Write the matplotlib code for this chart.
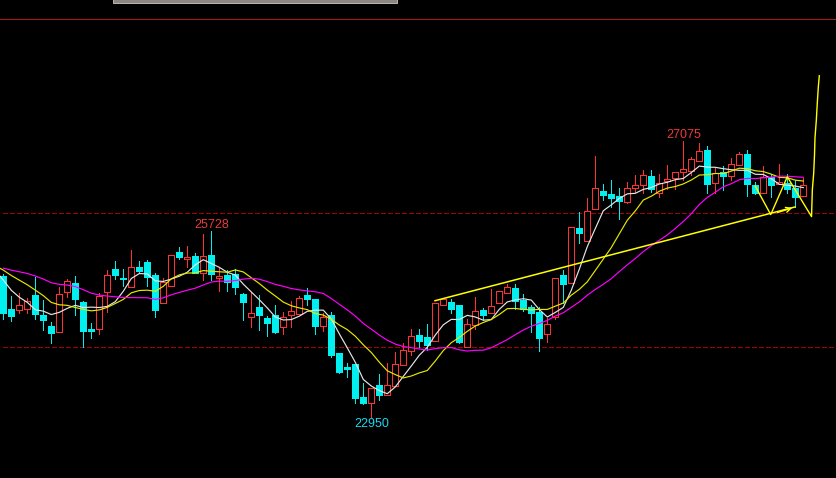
import numpy as np
import pandas as pd
import matplotlib
matplotlib.use("Agg")
import matplotlib.pyplot as plt
from matplotlib.patches import Rectangle

# daily candles
opens = [25055, 24565, 24550, 24565, 24775, 24475, 24310, 24220, 24820, 24955,
         24670, 24265, 24265, 24820, 25160, 25025, 24895, 25190, 25265, 25070,
         24655, 24910, 25415, 25310, 25355, 25100, 25370, 25025, 25070, 25085,
         24790, 24445, 24595, 24430, 24475, 24295, 24475, 24490, 24775, 24715,
         24310, 24475, 23905, 23695, 23740, 23250, 23160, 23430, 23280, 23415,
         23725, 23935, 24175, 24145, 24085, 24625, 24670, 24625, 23995, 24325,
         24550, 24505, 24655, 24805, 24880, 24700, 24595, 24520, 24190, 24445,
         25070, 24955, 25775, 25580, 26060, 26330, 26285, 26255, 26165, 26375,
         26415, 26550, 26300, 26475, 26520, 26610, 26625, 26775, 26940, 26445,
         26610, 26550, 26715, 26880, 26415, 26300, 26535, 26430, 26445, 26375,
         26255]
highs = [25085, 24760, 24805, 24730, 25040, 24700, 24370, 24895, 25010, 25055,
         24685, 24355, 24805, 25145, 25280, 25160, 25445, 25280, 25295, 25100,
         25025, 25370, 25490, 25505, 25400, 25685, 25728, 25175, 25145, 25160,
         24805, 24820, 24775, 24460, 24625, 24520, 24685, 24760, 24880, 24715,
         24505, 24520, 23905, 23755, 23740, 23460, 23385, 23595, 23755, 23920,
         24055, 24265, 24265, 24340, 24655, 24715, 24715, 24625, 24415, 24745,
         24580, 24865, 24835, 24940, 24940, 24790, 24625, 24595, 24430, 25025,
         25145, 25790, 26015, 26225, 26850, 26430, 26490, 26375, 26460, 26565,
         26640, 26640, 26580, 26715, 26610, 27075, 26835, 27045, 27000, 26670,
         26700, 26820, 26910, 26940, 26460, 26700, 26580, 26730, 26580, 26490,
         26520]
lows = [24415, 24385, 24505, 24505, 24415, 24250, 24055, 24220, 24745, 24475,
        23995, 24130, 24190, 24520, 25010, 24910, 24895, 25100, 24910, 24445,
        24655, 24910, 25310, 25190, 25100, 25000, 25000, 24835, 24835, 24790,
        24400, 24295, 24250, 24160, 24205, 24190, 24295, 24490, 24625, 24190,
        24235, 23845, 23610, 23550, 23160, 23145, 22950, 23205, 23280, 23415,
        23725, 23875, 23995, 23950, 24085, 24625, 24505, 24055, 23995, 24265,
        24400, 24505, 24655, 24805, 24565, 24535, 24220, 23935, 24070, 24415,
        24655, 24955, 25550, 25580, 26060, 26195, 26090, 25910, 26150, 26315,
        26300, 26315, 26240, 26360, 26360, 26490, 26565, 26775, 26300, 26300,
        26345, 26490, 26715, 26255, 26285, 26300, 26240, 26430, 26300, 26090,
        26255]
closes = [24505, 24460, 24625, 24685, 24490, 24400, 24205, 24790, 24985, 24715,
          24235, 24235, 24760, 25070, 25070, 25010, 25190, 25130, 25040, 24550,
          24970, 25370, 25340, 25340, 25100, 25355, 25085, 25055, 24970, 24895,
          24670, 24505, 24475, 24355, 24220, 24445, 24535, 24730, 24715, 24310,
          24445, 23875, 23620, 23665, 23235, 23160, 23385, 23280, 23430, 23740,
          23950, 24160, 24085, 24025, 24655, 24715, 24565, 24070, 24340, 24535,
          24475, 24610, 24835, 24895, 24685, 24565, 24505, 24130, 24340, 25025,
          24940, 25790, 25700, 26030, 26375, 26270, 26225, 26180, 26375, 26415,
          26565, 26360, 26445, 26505, 26610, 26655, 26805, 26925, 26430, 26595,
          26550, 26730, 26880, 26430, 26300, 26535, 26415, 26460, 26360, 26240,
          26415]
# closes before the first visible candle (only feed the moving averages)
prior_closes = [25070, 25115, 25175, 25265, 25295, 25325, 25265, 25205, 25175, 25160,
                25265, 25325, 25370, 25295, 25220, 25220, 25145, 25070, 25040]

ma_periods = [5, 10, 20]
ma_colors = ["#e6e6e6", "#e8e800", "#ff00ff"]
levels = [24000, 26000]

# user drawn lines
trend_x = [53.96, 98.96]
trend_y = [24688, 26089]
zig_x = [94.0, 95.93, 98.0, 101.03, 101.13, 101.3, 101.4, 101.46, 101.63, 101.75, 101.88, 102.0]
zig_y = [26400, 25975, 26540, 25945, 26345, 26595, 26865, 27120, 27390, 27645, 27885, 28050]

RED = "#ff3232"
CYAN = "#00f0f0"

W, H = 837, 478
fig = plt.figure(figsize=(W / 100, H / 100), dpi=100, facecolor="black")
ax = fig.add_axes([0, 0, 1, 1])
ax.set_facecolor("black")
ax.axis("off")

# pixel -> data mapping
ax.set_xlim(-3.3 / 8, (W - 3.3) / 8)
ax.set_ylim(27075 - (H - 141) * 14.946, 27075 + 141 * 14.946)

lw = 0.6
bw = 0.78
for i in range(len(closes)):
    o, h, l, c = opens[i], highs[i], lows[i], closes[i]
    if c >= o:
        ax.vlines(i, c, h, color=RED, lw=lw, zorder=2, antialiased=False)
        ax.vlines(i, l, o, color=RED, lw=lw, zorder=2, antialiased=False)
        ax.add_patch(Rectangle((i - bw / 2, o), bw, max(c - o, 8), facecolor="black",
                               edgecolor=RED, lw=lw, zorder=3, antialiased=False))
    else:
        ax.vlines(i, l, h, color=CYAN, lw=lw, zorder=2, antialiased=False)
        ax.add_patch(Rectangle((i - bw / 2, c), bw, o - c, facecolor=CYAN,
                               edgecolor=CYAN, lw=lw, zorder=3, antialiased=False))

allc = pd.Series(prior_closes + closes, dtype=float)
xs = np.arange(-len(prior_closes), len(closes))
for n, col in zip(ma_periods, ma_colors):
    ma = allc.rolling(n).mean()
    ax.plot(xs, ma, color=col, lw=0.85, zorder=4)

for lev in levels:
    ax.hlines(lev, 0, ax.get_xlim()[1], color="#a80000", lw=0.6,
              linestyles=(0, (5, 3)), zorder=1, antialiased=False)

# frame line and tab at the top
ax.plot([0, 1], [1 - 19.3 / H] * 2, transform=ax.transAxes, color="#b01515", lw=0.6,
        antialiased=False)
ax.add_patch(Rectangle((113 / W, 1 - 2.6 / H), 284 / W, 5 / H, transform=ax.transAxes,
                       facecolor="#8c8782", edgecolor="#cfcac4", lw=0.6, clip_on=False))

ax.plot(trend_x, trend_y, color="#ffff00", lw=1.1, zorder=5)
ax.annotate("", xy=(trend_x[1], trend_y[1]), xytext=(trend_x[1] - 2.5, trend_y[1] - 95),
            arrowprops=dict(arrowstyle="->", color="#ffff00", lw=1.0,
                            mutation_scale=9), zorder=5)
ax.plot(zig_x, zig_y, color="#ffff00", lw=1.0, zorder=5)

# high / low markers
ihi = int(np.argmax(highs[:50]))
ilo = int(np.argmin(lows))
ihi2 = int(np.argmax(highs))
ax.annotate(str(highs[ihi]), (ihi, highs[ihi]), xytext=(0, 2.5), textcoords="offset points",
            ha="center", va="baseline", color="#e83c3c", fontsize=9, family="Liberation Sans")
ax.annotate(str(highs[ihi2]), (ihi2, highs[ihi2]), xytext=(0, 2.5), textcoords="offset points",
            ha="center", va="baseline", color="#e83c3c", fontsize=9, family="Liberation Sans")
ax.annotate(str(lows[ilo]), (ilo, lows[ilo]), xytext=(0, -1), textcoords="offset points",
            ha="center", va="top", color="#18d8f0", fontsize=9, family="Liberation Sans")

fig.savefig("out.png", dpi=100, facecolor="black")
